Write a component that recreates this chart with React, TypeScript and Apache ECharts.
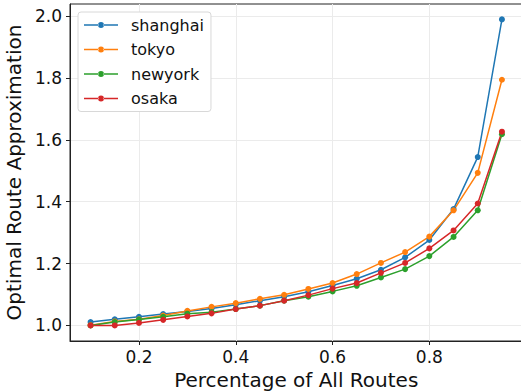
import React, { useEffect, useRef } from "react";
import * as echarts from "echarts";

const xValues = [0.1, 0.15, 0.2, 0.25, 0.3, 0.35, 0.4, 0.45, 0.5, 0.55, 0.6, 0.65, 0.7, 0.75, 0.8, 0.85, 0.9, 0.95];
const shanghai = [1.011, 1.02, 1.028, 1.037, 1.045, 1.055, 1.067, 1.08, 1.093, 1.109, 1.129, 1.151, 1.18, 1.22, 1.276, 1.376, 1.544, 1.989];
const tokyo = [1.001, 1.013, 1.02, 1.032, 1.047, 1.06, 1.072, 1.086, 1.099, 1.118, 1.137, 1.166, 1.202, 1.237, 1.287, 1.372, 1.493, 1.794];
const newyork = [1.0, 1.011, 1.019, 1.028, 1.038, 1.043, 1.053, 1.064, 1.08, 1.093, 1.11, 1.128, 1.155, 1.182, 1.224, 1.286, 1.372, 1.618];
const osaka = [1.0, 1.0, 1.008, 1.018, 1.029, 1.039, 1.053, 1.064, 1.08, 1.098, 1.119, 1.137, 1.17, 1.202, 1.249, 1.307, 1.394, 1.626];
const xTicks = [0.2, 0.4, 0.6, 0.8];
const yTicks = [1.0, 1.2, 1.4, 1.6, 1.8, 2.0];

const seriesDefs = [
  { name: "shanghai", data: shanghai, color: "#1f77b4" },
  { name: "tokyo", data: tokyo, color: "#ff7f0e" },
  { name: "newyork", data: newyork, color: "#2ca02c" },
  { name: "osaka", data: osaka, color: "#d62728" },
];

const FONT = "DejaVu Sans";
const LEGEND_ICON =
  "path://M0,6.25H14.5V7.75H0Z M19.5,6.25H34V7.75H19.5Z M14,7A3,3 0 1 0 20,7A3,3 0 1 0 14,7Z";

export default function App() {
  const ref = useRef<HTMLDivElement>(null);
  useEffect(() => {
    if (!ref.current) return;
    const chart = echarts.init(ref.current, undefined, { renderer: "svg" });
    chart.setOption({
      animation: false,
      textStyle: { fontFamily: FONT },
      grid: {
        left: 70,
        right: -1.5,
        top: 4,
        bottom: 51,
        outerBoundsMode: "none",
        containLabel: false,
        show: true,
        borderColor: "#222",
        borderWidth: 1,
        backgroundColor: "transparent",
      },
      legend: {
        orient: "vertical",
        left: 78,
        top: 12,
        padding: [5, 7, 5, 6],
        itemWidth: 34,
        itemHeight: 14,
        itemGap: 8.5,
        icon: LEGEND_ICON,
        backgroundColor: "#fff",
        borderColor: "#d8d8d8",
        borderWidth: 1,
        borderRadius: 3,
        textStyle: { fontFamily: FONT, fontSize: 16, color: "#111", lineHeight: 16, padding: [0, 0, 0, 8] },
        data: seriesDefs.map((s) => ({ name: s.name, itemStyle: { color: s.color, borderWidth: 0 } })),
      },
      xAxis: {
        type: "value",
        min: 0.0575,
        max: 0.9925,
        name: "Percentage of All Routes",
        nameLocation: "middle",
        nameGap: 26,
        nameTextStyle: { fontFamily: FONT, fontSize: 20, color: "#111", verticalAlign: "top" },
        axisLine: { show: true, lineStyle: { color: "#222", width: 1 } },
        axisTick: { show: true, length: 4, inside: false, customValues: xTicks, lineStyle: { color: "#222" } },
        axisLabel: {
          customValues: xTicks,
          fontFamily: FONT,
          fontSize: 17,
          color: "#111",
          margin: 7,
          formatter: (v: number) => v.toFixed(1),
        },
        splitLine: { show: true, lineStyle: { color: "#ebebeb", width: 1 } },
      },
      yAxis: {
        type: "value",
        min: 0.9497,
        max: 2.0387,
        name: "Optimal Route Approximation",
        nameLocation: "middle",
        nameGap: 35,
        nameTextStyle: { fontFamily: FONT, fontSize: 20, color: "#111" },
        axisLine: { show: true, lineStyle: { color: "#222", width: 1 } },
        axisTick: { show: true, length: 4, inside: false, customValues: yTicks, lineStyle: { color: "#222" } },
        axisLabel: {
          customValues: yTicks,
          fontFamily: FONT,
          fontSize: 17,
          color: "#111",
          margin: 8,
          formatter: (v: number) => v.toFixed(1),
        },
        splitLine: { show: true, lineStyle: { color: "#ebebeb", width: 1 } },
      },
      series: seriesDefs.map((s) => ({
        name: s.name,
        type: "line",
        data: xValues.map((x, i) => [x, s.data[i]]),
        symbol: "circle",
        symbolSize: 6,
        showSymbol: true,
        color: s.color,
        lineStyle: { width: 1.5, color: s.color },
        itemStyle: { color: s.color },
      })),
    });
    return () => chart.dispose();
  }, []);
  return <div ref={ref} style={{ width: 521, height: 392, position: "absolute", left: 0, top: 0 }} />;
}
